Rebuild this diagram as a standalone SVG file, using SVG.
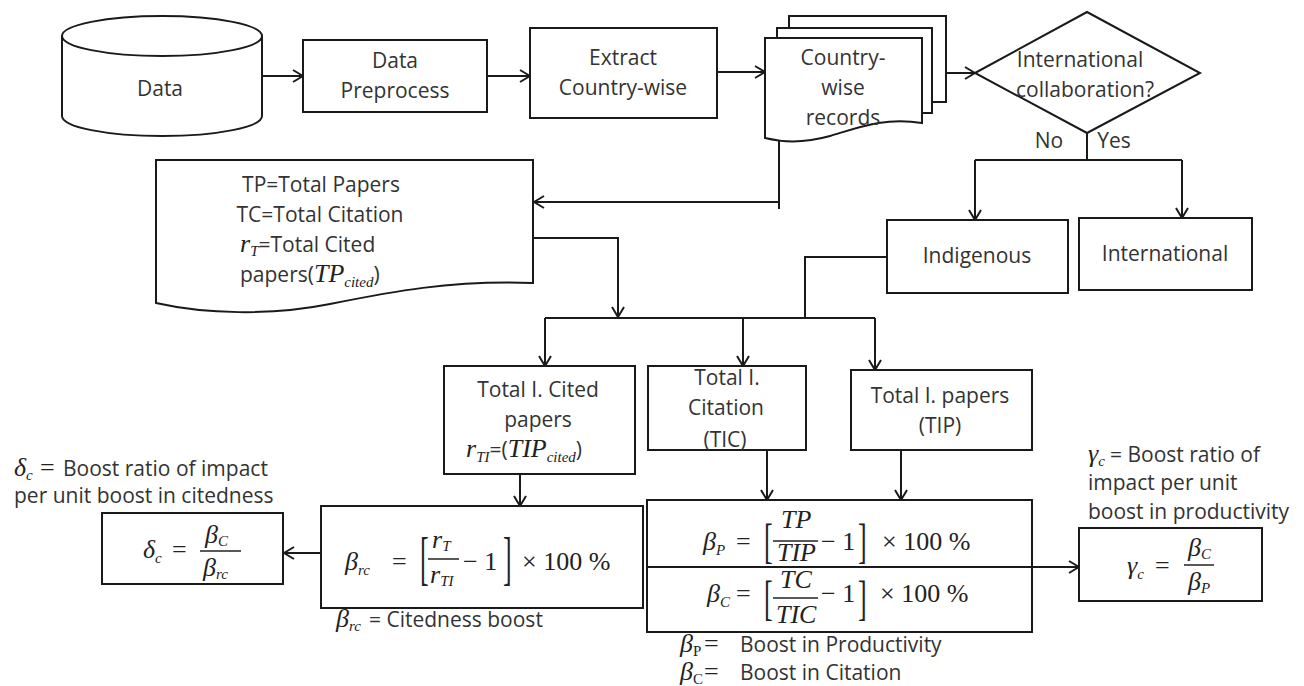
<svg xmlns="http://www.w3.org/2000/svg" width="1304" height="686" viewBox="0 0 1304 686">
<defs>
<marker id="arr" markerWidth="12" markerHeight="14" refX="11" refY="7" orient="auto" markerUnits="userSpaceOnUse">
<path d="M1,1 L11,7 L1,13" fill="none" stroke="#1a1a1a" stroke-width="2"/>
</marker>
</defs>
<style>
.box{fill:#fff;stroke:#1a1a1a;stroke-width:2}
.t{font-family:"Open Sans","Noto Sans",sans-serif;font-size:21px;fill:#333;text-anchor:middle}
.s{font-family:"Open Sans","Noto Sans",sans-serif;font-size:21px;fill:#333}
.m{font-family:"Liberation Serif",serif;font-style:italic;font-size:26px;fill:#222}
.mu{font-family:"Liberation Serif",serif;font-size:26px;fill:#222}
.sub{font-size:15px}
.fr{stroke:#222;stroke-width:1.5}
#connectors path{fill:none;stroke:#1a1a1a;stroke-width:2}
</style>
<rect width="1304" height="686" fill="#fff"/>

<g id="connectors">
<path d="M263,76 H303" marker-end="url(#arr)"/>
<path d="M487,76 H530" marker-end="url(#arr)"/>
<path d="M717,72 H765" marker-end="url(#arr)"/>
<path d="M946,73 H975" marker-end="url(#arr)"/>
<path d="M779,141 V209"/>
<path d="M779,202 H534" marker-end="url(#arr)"/>
<path d="M1087,133 V160 M975,160 H1182"/>
<path d="M975,160 V220" marker-end="url(#arr)"/>
<path d="M1182,160 V218" marker-end="url(#arr)"/>
<path d="M887,257 H805 V318"/>
<path d="M533,238 H618 V317" marker-end="url(#arr)"/>
<path d="M545,318 H875"/>
<path d="M545,318 V366" marker-end="url(#arr)"/>
<path d="M743,318 V366" marker-end="url(#arr)"/>
<path d="M875,318 V370" marker-end="url(#arr)"/>
<path d="M520,474 V506" marker-end="url(#arr)"/>
<path d="M767,450 V500" marker-end="url(#arr)"/>
<path d="M901,450 V500" marker-end="url(#arr)"/>
<path d="M321,553 H284" marker-end="url(#arr)"/>
<path d="M1032,567 H1079" marker-end="url(#arr)"/>
</g>

<g id="data">
<path class="box" d="M62,36 V116 A100,20 0 0 0 262,116 V36"/>
<ellipse class="box" cx="162" cy="36" rx="100" ry="20"/>
<text class="t" x="160" y="96">Data</text>
</g>

<g id="preprocess">
<rect class="box" x="303" y="40" width="184" height="72"/>
<text class="t" x="395" y="68">Data</text>
<text class="t" x="395" y="98">Preprocess</text>
</g>

<g id="extract">
<rect class="box" x="530" y="28" width="187" height="90"/>
<text class="t" x="623" y="65">Extract</text>
<text class="t" x="623" y="95">Country-wise</text>
</g>

<g id="records">
<rect class="box" x="789" y="16" width="157" height="86"/>
<rect class="box" x="777" y="28" width="155" height="85"/>
<path class="box" d="M765,38 H922 V123 C885,117 860,127 830,136 C805,143 785,143 765,138 Z"/>
<text class="t" x="843" y="65">Country-</text>
<text class="t" x="843" y="95">wise</text>
<text class="t" x="843" y="125">records</text>
</g>

<g id="decision">
<polygon class="box" points="975,73 1087,12 1200,73 1087,133"/>
<text class="t" x="1080" y="67">International</text>
<text class="t" x="1085" y="97">collaboration?</text>
<text class="t" x="1049" y="148">No</text>
<text class="t" x="1114" y="148">Yes</text>
</g>

<g id="indigenous">
<rect class="box" x="887" y="220" width="181" height="73"/>
<text class="t" x="977" y="263">Indigenous</text>
</g>

<g id="international">
<rect class="box" x="1079" y="218" width="173" height="72"/>
<text class="t" x="1165" y="261">International</text>
</g>

<g id="totals">
<path class="box" d="M156,160 H533 V283 C450,280 390,292 330,304 C270,316 205,314 156,303 Z"/>
<text class="t" x="321" y="192">TP=Total Papers</text>
<text class="t" x="320" y="222">TC=Total Citation</text>
<text class="s" x="240" y="252"><tspan class="m" font-size="22">r</tspan><tspan class="m sub" dy="4">T</tspan><tspan dy="-4">=Total Cited</tspan></text>
<text class="s" x="240" y="282">papers(<tspan class="m" font-size="24">TP</tspan><tspan class="m sub" dy="5">cited</tspan><tspan dy="-5">)</tspan></text>
</g>

<g id="cited">
<rect class="box" x="444" y="366" width="191" height="108"/>
<text class="t" x="538" y="397">Total I. Cited</text>
<text class="t" x="538" y="427">papers</text>
<text class="s" x="466" y="457"><tspan class="m" font-size="24">r</tspan><tspan class="m sub" dy="5">TI</tspan><tspan dy="-5">=(</tspan><tspan class="m" font-size="24">TIP</tspan><tspan class="m sub" dy="5">cited</tspan><tspan dy="-5">)</tspan></text>
</g>

<g id="tic">
<rect class="box" x="648" y="366" width="158" height="84"/>
<text class="t" x="727" y="385">Total I.</text>
<text class="t" x="726" y="415">Citation</text>
<text class="t" x="725" y="447">(TIC)</text>
</g>

<g id="tip">
<rect class="box" x="851" y="370" width="181" height="80"/>
<text class="t" x="940" y="403">Total I. papers</text>
<text class="t" x="940" y="433">(TIP)</text>
</g>

<g id="delta">
<text class="s" x="14" y="476"><tspan class="m" font-size="24">δ</tspan><tspan class="m sub" dy="4">c</tspan><tspan class="mu" font-size="24" dy="-4" x="40">=</tspan><tspan x="63">Boost ratio of impact</tspan></text>
<text class="s" x="14" y="503">per unit boost in citedness</text>
<rect class="box" x="102" y="513" width="181" height="71"/>
<text class="m" x="143" y="558">δ<tspan class="sub" dy="5">c</tspan></text>
<text class="mu" x="172" y="558">=</text>
<text class="m" font-size="22" x="205" y="543">β<tspan class="mu sub" dy="3">C</tspan></text>
<line class="fr" x1="200" y1="551" x2="241" y2="551"/>
<text class="m" font-size="22" x="203" y="576">β<tspan class="mu sub" dy="3">rc</tspan></text>
</g>

<g id="betarc">
<rect class="box" x="321" y="506" width="322" height="102"/>
<text class="m" x="345" y="570">β<tspan class="sub" dy="5">rc</tspan></text>
<text class="mu" x="392" y="570">=</text>
<text class="mu" transform="translate(420,578) scale(1,2.3)">[</text>
<text class="m" font-size="22" x="432" y="548">r<tspan class="sub" font-size="13" dy="3">T</tspan></text>
<line class="fr" x1="428" y1="559" x2="459" y2="559"/>
<text class="m" font-size="22" x="430" y="583">r<tspan class="sub" font-size="13" dy="3">TI</tspan></text>
<text class="mu" x="463" y="570">− 1</text>
<text class="mu" transform="translate(503,578) scale(1,2.3)">]</text>
<text class="mu" x="522" y="570">× 100 %</text>
<text class="s" x="336" y="627"><tspan class="m" font-size="24">β</tspan><tspan class="m sub" dy="4">rc</tspan><tspan dy="-4" x="369">= Citedness boost</tspan></text>
</g>

<g id="betas">
<rect class="box" x="647" y="500" width="385" height="67"/>
<rect class="box" x="647" y="567" width="385" height="65"/>
<text class="m" x="703" y="550">β<tspan class="mu sub" dy="5">P</tspan></text>
<text class="mu" x="736" y="550">=</text>
<text class="mu" transform="translate(764,557) scale(1,1.9)">[</text>
<text class="m" font-size="22" x="781" y="528">TP</text>
<line class="fr" x1="773" y1="541" x2="818" y2="541"/>
<text class="m" font-size="21" x="777" y="561">TIP</text>
<text class="mu" x="821" y="550">− 1</text>
<text class="mu" transform="translate(858,557) scale(1,1.9)">]</text>
<text class="mu" x="882" y="550">× 100 %</text>

<text class="m" x="707" y="602">β<tspan class="mu sub" dy="5">C</tspan></text>
<text class="mu" x="736" y="602">=</text>
<text class="mu" transform="translate(764,614) scale(1,1.9)">[</text>
<text class="m" font-size="21" x="780" y="588">TC</text>
<line class="fr" x1="773" y1="598" x2="818" y2="598"/>
<text class="m" font-size="22" x="776" y="623">TIC</text>
<text class="mu" x="821" y="602">− 1</text>
<text class="mu" transform="translate(858,614) scale(1,1.9)">]</text>
<text class="mu" x="880" y="602">× 100 %</text>

<text class="s" x="680" y="652"><tspan class="m" font-size="24">β</tspan><tspan class="mu sub" dy="4">P</tspan><tspan class="mu" font-size="24" dy="-4" x="704">=</tspan><tspan x="740">Boost in Productivity</tspan></text>
<text class="s" x="680" y="680"><tspan class="m" font-size="24">β</tspan><tspan class="mu sub" dy="4">C</tspan><tspan class="mu" font-size="24" dy="-4" x="704">=</tspan><tspan x="740">Boost in Citation</tspan></text>
</g>

<g id="gamma">
<text class="s" x="1088" y="462"><tspan class="m" font-size="24">γ</tspan><tspan class="m sub" dy="4">c</tspan><tspan dy="-4" x="1110">= Boost ratio of</tspan></text>
<text class="s" x="1088" y="490">impact per unit</text>
<text class="s" x="1088" y="519">boost in productivity</text>
<rect class="box" x="1079" y="528" width="183" height="73"/>
<text class="m" x="1127" y="574">γ<tspan class="sub" dy="5">c</tspan></text>
<text class="mu" x="1155" y="574">=</text>
<text class="m" font-size="22" x="1188" y="556">β<tspan class="mu sub" dy="3">C</tspan></text>
<line class="fr" x1="1184" y1="565" x2="1214" y2="565"/>
<text class="m" font-size="22" x="1188" y="590">β<tspan class="mu sub" dy="3">P</tspan></text>
</g>
</svg>
